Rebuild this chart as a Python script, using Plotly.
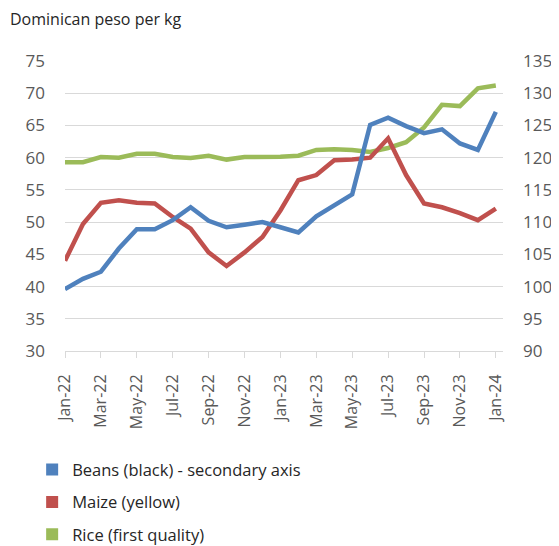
import plotly.graph_objects as go

months = ["Jan-22","Feb-22","Mar-22","Apr-22","May-22","Jun-22","Jul-22","Aug-22","Sep-22","Oct-22","Nov-22","Dec-22",
          "Jan-23","Feb-23","Mar-23","Apr-23","May-23","Jun-23","Jul-23","Aug-23","Sep-23","Oct-23","Nov-23","Dec-23","Jan-24"]

beans = [99.6,101.2,102.3,105.9,108.9,108.9,110.3,112.3,110.2,109.2,109.6,110.0,
         109.2,108.4,110.9,112.6,114.3,125.1,126.2,124.9,123.8,124.4,122.2,121.2,127.1]
maize = [44.0,49.7,53.0,53.4,53.0,52.9,50.8,49.0,45.3,43.2,45.3,47.7,
         51.8,56.5,57.3,59.6,59.7,60.0,63.0,57.3,52.9,52.3,51.4,50.3,52.1]
rice = [59.3,59.3,60.1,60.0,60.6,60.6,60.1,59.95,60.3,59.7,60.1,60.1,
        60.15,60.3,61.2,61.3,61.2,60.9,61.5,62.4,64.7,68.2,68.0,70.75,71.2]

names = ["Beans (black) - secondary axis", "Maize (yellow)", "Rice (first quality)"]
colors = ["#4F81BD", "#C0504D", "#9BBB59"]

fig = go.Figure()
fig.add_trace(go.Scatter(x=months, y=rice, mode="lines", line=dict(color=colors[2], width=4.5), showlegend=False))
fig.add_trace(go.Scatter(x=months, y=maize, mode="lines", line=dict(color=colors[1], width=4.5), showlegend=False))
fig.add_trace(go.Scatter(x=months, y=beans, mode="lines", line=dict(color=colors[0], width=4.5), showlegend=False, yaxis="y2"))

for i, (n, c) in enumerate(zip(names, colors)):
    fig.add_trace(go.Scatter(x=[None], y=[None], mode="markers", name=n,
                             marker=dict(symbol="square", size=12, color=c),
                             legendgroup=f"g{i}", showlegend=True))

font_family = "Open Sans, sans-serif"
fig.update_layout(
    width=551, height=538,
    margin=dict(l=57, r=56, t=53, b=195, autoexpand=False),
    paper_bgcolor="white", plot_bgcolor="white",
    font=dict(family=font_family, color="#595959", size=15),
    showlegend=True,
    legend=dict(x=-0.075, y=-0.349, xanchor="left", yanchor="top", orientation="v",
                font=dict(size=16.5, color="#262626"), tracegroupgap=8, itemwidth=30),
    xaxis=dict(type="category", categoryorder="array", categoryarray=months, automargin=False,
               range=[0, 24.4], tickmode="array", tickvals=months[::2], ticktext=months[::2],
               tickangle=-90, showgrid=False, showline=True, linecolor="#d9d9d9", linewidth=1,
               ticks="outside", ticklen=6, tickcolor="#d9d9d9", tickfont=dict(size=16),
               ticklabelstandoff=10, zeroline=False),
    yaxis=dict(range=[30, 75], dtick=5, showgrid=True, gridcolor="#d9d9d9", gridwidth=1, automargin=False,
               zeroline=False, ticks="", ticklabelstandoff=19, tickfont=dict(size=17)),
    yaxis2=dict(range=[90, 135], dtick=5, overlaying="y", side="right", showgrid=False, automargin=False,
                zeroline=False, ticks="", ticklabelstandoff=19, tickfont=dict(size=17)),
    annotations=[dict(text="Dominican peso per kg", xref="paper", yref="paper", x=-0.13, y=1.1,
                      xanchor="left", yanchor="bottom", showarrow=False,
                      font=dict(size=16, color="#262626"))],
)

fig.write_html("out.html")
